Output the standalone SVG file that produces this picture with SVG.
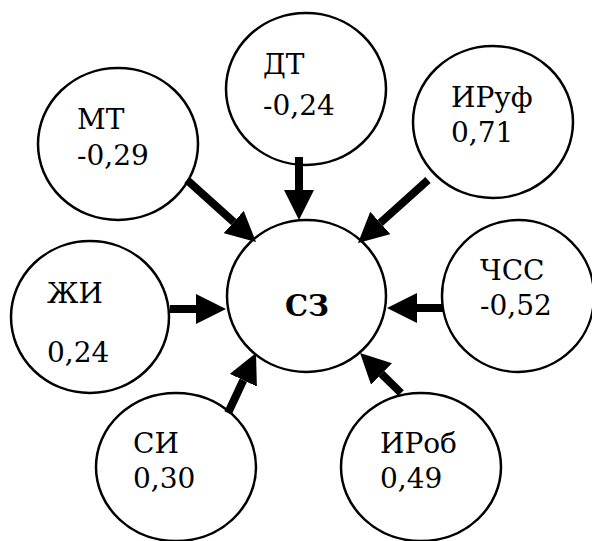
<svg xmlns="http://www.w3.org/2000/svg" width="592" height="541" viewBox="0 0 592 541">
  <style>
    .node ellipse { fill: #ffffff; stroke: #000000; stroke-width: 2.5; }
    .node text { font-family: "DejaVu Serif", "Liberation Serif", serif; font-size: 28px; fill: #000000; }
    .node text.bold { font-weight: bold; font-size: 29px; }
    .edges line { stroke: #000000; stroke-width: 8; }
  </style>
  <defs>
    <marker id="head" markerWidth="30" markerHeight="30" refX="0" refY="15" orient="auto" markerUnits="userSpaceOnUse">
      <path d="M0,0 L30,15 L0,30 Z" fill="#000000"/>
    </marker>
  </defs>
  <rect width="592" height="541" fill="#ffffff"/>

  <g id="node-sz" class="node">
    <ellipse cx="306.5" cy="296" rx="79.5" ry="76"/>
    <text class="bold" x="285" y="316">СЗ</text>
  </g>
  <g id="node-mt" class="node">
    <ellipse cx="118" cy="144" rx="80" ry="76"/>
    <text x="77" y="129">МТ</text>
    <text x="77" y="165">-0,29</text>
  </g>
  <g id="node-dt" class="node">
    <ellipse cx="306" cy="89" rx="80" ry="76"/>
    <text x="263" y="74">ДТ</text>
    <text x="263" y="115">-0,24</text>
  </g>
  <g id="node-iruf" class="node">
    <ellipse cx="493" cy="122" rx="80" ry="76"/>
    <text x="451" y="107">ИРуф</text>
    <text x="451" y="142">0,71</text>
  </g>
  <g id="node-zhi" class="node">
    <ellipse cx="90" cy="317" rx="79" ry="76"/>
    <text x="47" y="303">ЖИ</text>
    <text x="47" y="362">0,24</text>
  </g>
  <g id="node-chss" class="node">
    <ellipse cx="518" cy="296" rx="76" ry="76"/>
    <text x="480" y="280">ЧСС</text>
    <text x="480" y="315">-0,52</text>
  </g>
  <g id="node-si" class="node">
    <ellipse cx="176" cy="467" rx="80" ry="74"/>
    <text x="133" y="453">СИ</text>
    <text x="133" y="488">0,30</text>
  </g>
  <g id="node-irob" class="node">
    <ellipse cx="421" cy="467" rx="80" ry="74"/>
    <text x="380" y="453">ИРоб</text>
    <text x="380" y="488">0,49</text>
  </g>

  <g id="edges" class="edges">
    <line x1="187" y1="180" x2="233.7" y2="222" marker-end="url(#head)"/>
    <line x1="299" y1="157" x2="299" y2="190" marker-end="url(#head)"/>
    <line x1="428" y1="180" x2="380.3" y2="222.9" marker-end="url(#head)"/>
    <line x1="170" y1="309" x2="196" y2="309" marker-end="url(#head)"/>
    <line x1="443" y1="308" x2="417" y2="308" marker-end="url(#head)"/>
    <line x1="228" y1="413" x2="243.3" y2="380.2" marker-end="url(#head)"/>
    <line x1="401" y1="393" x2="381.5" y2="373.9" marker-end="url(#head)"/>
  </g>
</svg>
